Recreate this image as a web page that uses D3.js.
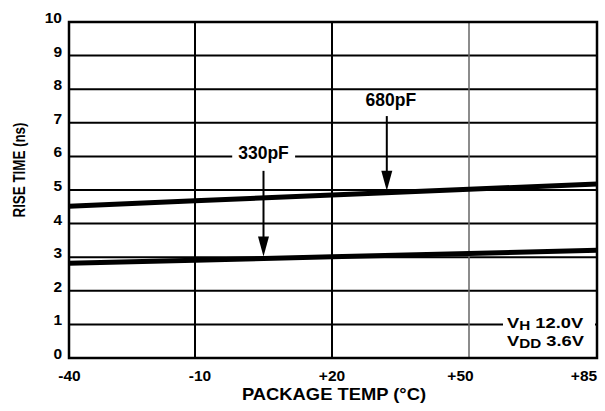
<!DOCTYPE html>
<html><head><meta charset="utf-8">
<script src="https://cdn.jsdelivr.net/npm/d3@7"></script>
<style>body{margin:0;background:#fff}svg{display:block}text{font-family:"Liberation Sans",Arial,sans-serif;font-weight:bold;fill:#000}</style>
</head><body><svg id="c" width="605" height="411"></svg>
<script>
const temps = [-40, -10, 20, 50, 85];
const tickLabels = ["-40", "-10", "+20", "+50", "+85"];
const yTicks = [0,1,2,3,4,5,6,7,8,9,10];
const series330 = [2.82, 2.91, 3.01, 3.11, 3.21];
const series680 = [4.52, 4.68, 4.85, 5.02, 5.18];
const seriesNames = ["330pF", "680pF"];
const arrowTemps = [5, 32];          // x where each arrow points
const labelValues = [6.1, 7.68];     // y of each label
const arrowStartValues = [5.57, 7.2];
const condLines = [["V","H"," 12.0V"],["V","DD"," 3.6V"]];

const svg = d3.select("#c");
const L=69, R=597, T=22, B=358;
const x = d3.scaleLinear().domain(temps).range([69,195,332,469,597]);
const y = d3.scaleLinear().domain([0,10]).range([B,T]);

// horizontal grid
svg.append("g").selectAll("line").data(yTicks.slice(1,-1)).join("line")
  .attr("x1",L).attr("x2",R).attr("y1",d=>y(d)).attr("y2",d=>y(d))
  .attr("stroke","#000").attr("stroke-width",2);
// vertical grid
svg.append("g").selectAll("line").data(temps.slice(1,-1)).join("line")
  .attr("y1",T).attr("y2",B).attr("x1",d=>x(d)).attr("x2",d=>x(d))
  .attr("stroke",d=>d===50?"#666":"#000").attr("stroke-width",d=>d===50?1.5:2);

// series
const line = d3.line().x((d,i)=>x(temps[i])).y(d=>y(d));
[series330, series680].forEach(s=>{
  svg.append("path").attr("d",line(s)).attr("fill","none").attr("stroke","#000").attr("stroke-width",5);
});

// frame
svg.append("rect").attr("x",L).attr("y",T).attr("width",R-L).attr("height",B-T)
  .attr("fill","none").attr("stroke","#000").attr("stroke-width",2.5);

// y tick labels
svg.append("g").selectAll("text").data(yTicks).join("text")
  .attr("x",62).attr("y",d=>y(d)-4.5).attr("dy","0.35em").attr("text-anchor","end")
  .attr("font-size",15.5).text(d=>d);

// x tick labels
const xLabelShift = [0.5, 5, 0, -8.5, -13];
svg.append("g").selectAll("text").data(temps).join("text")
  .attr("x",(d,i)=>x(d)+xLabelShift[i]).attr("y",381).attr("text-anchor","middle")
  .attr("font-size",15.5).text((d,i)=>tickLabels[i]);

// axis titles
svg.append("text").attr("x",334).attr("y",400).attr("text-anchor","middle")
  .attr("font-size",17).attr("textLength",184).attr("lengthAdjust","spacingAndGlyphs")
  .text("PACKAGE TEMP (°C)");
svg.append("text").attr("transform","translate(25,170) rotate(-90)").attr("text-anchor","middle")
  .attr("font-size",16.5).attr("textLength",95).attr("lengthAdjust","spacingAndGlyphs").text("RISE TIME (ns)");

// annotations with arrows
const seriesArr=[series330, series680];
function valAt(s,t){ return d3.scaleLinear().domain(temps).range(s)(t); }
seriesNames.forEach((name,i)=>{
  const ax = x(arrowTemps[i]);
  const tipY = y(valAt(seriesArr[i], arrowTemps[i])) - 2;
  const ly = y(labelValues[i]);
  const lx = i===1 ? ax+4 : ax;
  const g = svg.append("g");
  const bg = g.append("rect").attr("fill","#fff");
  const t = g.append("text").attr("x",lx).attr("y",ly).attr("dy","0.35em")
    .attr("text-anchor","middle").attr("font-size",17.5).text(name);
  const bb = t.node().getBBox();
  bg.attr("x",bb.x-6).attr("y",bb.y+2).attr("width",bb.width+12).attr("height",bb.height-4);
  const sy = y(arrowStartValues[i]);
  g.append("line").attr("x1",ax).attr("x2",ax).attr("y1",sy).attr("y2",tipY-18)
    .attr("stroke","#000").attr("stroke-width",2);
  g.append("path").attr("d",`M${ax-5.5},${tipY-20}L${ax+5.5},${tipY-20}L${ax},${tipY}Z`).attr("fill","#000");
});

// conditions box
svg.append("rect").attr("x",503).attr("y",312).attr("width",92).attr("height",38).attr("fill","#fff");
const cg = svg.append("g").attr("transform","translate(507,0) scale(1.22,1)");
condLines.forEach((c,i)=>{
  const t = cg.append("text").attr("x",0).attr("y",328+i*18).attr("font-size",15);
  t.append("tspan").text(c[0]);
  t.append("tspan").attr("font-size",12.5).attr("dy",2.5).text(c[1]);
  t.append("tspan").attr("dy",-2.5).text(c[2]);
});
</script></body></html>
